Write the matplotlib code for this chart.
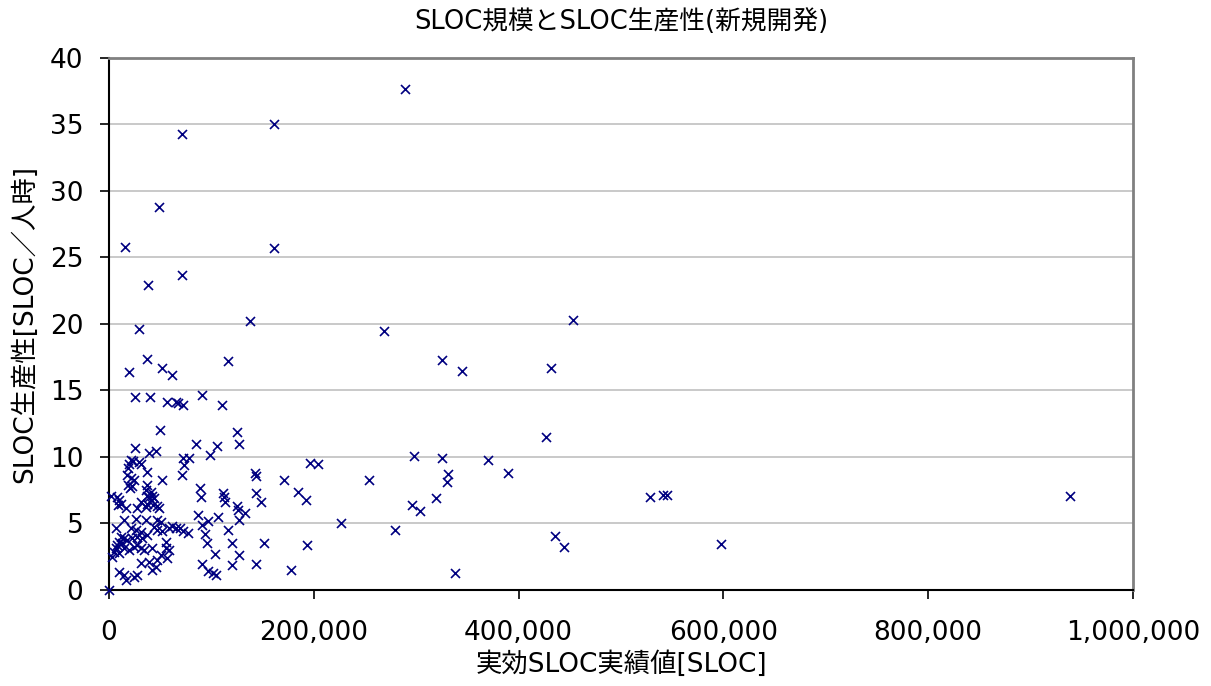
import matplotlib
matplotlib.use("Agg")
import matplotlib.pyplot as plt
from matplotlib.ticker import FuncFormatter

NAVY = "#000080"
plt.rcParams["font.family"] = ["DejaVu Sans", "Noto Sans CJK JP"]

# effective SLOC (x) and SLOC per person-hour (y)
sloc = [
    71000, 161000, 49000, 15600, 161000, 71000, 37800, 138000, 29600,
    289000, 269000, 453000, 325000, 345000, 432000, 427000, 298000, 325000, 370000,
    254000, 331000, 330000, 390000, 319000, 296000, 304000, 227000, 279000, 436000,
    444000, 338000,
    528000, 541000, 545000, 938000, 598000,
    37400, 19500, 51400, 61800, 115900,
    25400, 39700, 56900, 65100, 67300, 72500, 90500, 110600,
    49800, 124600, 127200, 84900, 105700, 98600,
    25400, 39000, 45600,
    72500, 78400, 73200, 71000,
    21200, 19500, 23700, 29300, 31500,
    18800, 17900, 21200, 24400, 18500, 22700, 20500,
    37400, 52000,
    37400, 35800, 40700, 36800, 42300, 39000, 43900, 40700, 37400, 43200, 47100,
    1600, 7500, 9800, 11400, 8800,
    16300, 27600, 30900, 35800, 48800,
    142600, 143900, 170700, 184300, 192200, 196000, 204500, 143900, 148200,
    88800, 89500, 111000, 112200, 113200,
    124600, 126200, 132700, 127200,
    116400, 119800, 127200, 119800, 143500,
    87200, 96900, 106700, 90500, 93700, 95400, 103500, 90500, 96900, 101800, 104400,
    69300, 72500, 77400,
    151100, 193800, 177800,
    14600, 26000, 35800, 47100, 50500,
    6500, 21200, 26000, 30900, 43900, 47100, 52000, 58600, 61800, 65100,
    11400, 14600, 17900, 22700, 27600, 32500, 37400,
    9800, 8100, 13000, 6500, 4900, 3300, 9800, 14600, 19500, 24400,
    27600, 30900, 34200, 42300, 55300, 55300, 58600, 56300, 50500,
    30900, 39000, 45600, 42300, 47100,
    9800, 14600, 16300, 24400, 27600,
    0,
]
prod = [
    34.3, 35.0, 28.8, 25.8, 25.7, 23.7, 22.9, 20.2, 19.6,
    37.7, 19.5, 20.3, 17.3, 16.5, 16.7, 11.5, 10.1, 9.9, 9.8,
    8.3, 8.7, 8.1, 8.8, 6.9, 6.4, 5.9, 5.0, 4.5, 4.05,
    3.2, 1.3,
    7.0, 7.15, 7.15, 7.1, 3.45,
    17.35, 16.4, 16.7, 16.2, 17.2,
    14.5, 14.5, 14.1, 14.1, 14.05, 13.9, 14.65, 13.9,
    12.0, 11.85, 10.95, 11.0, 10.8, 10.15,
    10.7, 10.3, 10.45,
    9.9, 9.9, 9.4, 8.65,
    9.8, 9.45, 9.7, 9.65, 9.45,
    9.15, 8.65, 8.4, 8.3, 7.9, 7.8, 7.65,
    8.9, 8.3,
    7.9, 7.5, 7.4, 7.1, 7.1, 7.0, 6.9, 6.8, 6.5, 6.4, 6.3,
    7.1, 7.0, 6.8, 6.5, 6.4,
    6.15, 6.15, 6.6, 6.25, 6.15,
    8.8, 8.55, 8.3, 7.35, 6.75, 9.55, 9.5, 7.3, 6.6,
    7.65, 7.0, 7.3, 7.0, 6.6,
    6.3, 6.0, 5.8, 5.25,
    4.5, 3.5, 2.6, 1.85, 1.95,
    5.65, 5.2, 5.5, 4.9, 4.2, 3.5, 2.7, 1.95, 1.4, 1.25, 1.15,
    4.65, 4.45, 4.25,
    3.5, 3.35, 1.5,
    5.26, 5.34, 5.26, 5.26, 5.14,
    4.64, 4.64, 4.51, 4.39, 4.76, 4.51, 4.44, 4.64, 4.83, 4.69,
    4.0, 3.9, 3.76, 3.9, 4.0, 3.93, 4.14,
    3.63, 3.38, 3.5, 3.13, 2.88, 2.5, 2.76, 3.13, 3.0, 3.26,
    3.38, 3.13, 3.0, 3.13, 3.63, 3.13, 3.0, 2.38, 2.63,
    2.0, 2.13, 1.75, 1.5, 2.26,
    1.38, 1.13, 0.75, 1.0, 1.13,
    0.0,
]

fig = plt.figure(figsize=(12.11, 6.86), dpi=100)
ax = fig.add_axes([0.09, 0.14, 0.8456, 0.7755])

ax.scatter(sloc, prod, marker="x", s=42, color=NAVY, linewidths=1.2, zorder=3, clip_on=False)

ax.set_xlim(0, 1000000)
ax.set_ylim(0, 40)
ax.set_xticks(range(0, 1000001, 200000))
ax.set_yticks(range(0, 41, 5))
ax.xaxis.set_major_formatter(FuncFormatter(lambda v, p: f"{int(v):,}"))
ax.grid(axis="y", color="#c0c0c0", linewidth=1.2, zorder=0)
ax.set_axisbelow(True)

for s in ["top", "right"]:
    ax.spines[s].set_color("#808080"); ax.spines[s].set_linewidth(2)
for s in ["left", "bottom"]:
    ax.spines[s].set_color("black"); ax.spines[s].set_linewidth(1.5)
ax.tick_params(axis="both", direction="out", length=6.5, width=1.2, labelsize=19, colors="black")
ax.tick_params(axis="y", pad=12)
ax.tick_params(axis="x", pad=15)

ax.set_title("SLOC規模とSLOC生産性(新規開発)", fontsize=18.5, pad=21)
ax.set_xlabel("実効SLOC実績値[SLOC]", fontsize=19, labelpad=4)
ax.set_ylabel("SLOC生産性[SLOC／人時]", fontsize=19, labelpad=8)

fig.savefig("out.png", dpi=100)
